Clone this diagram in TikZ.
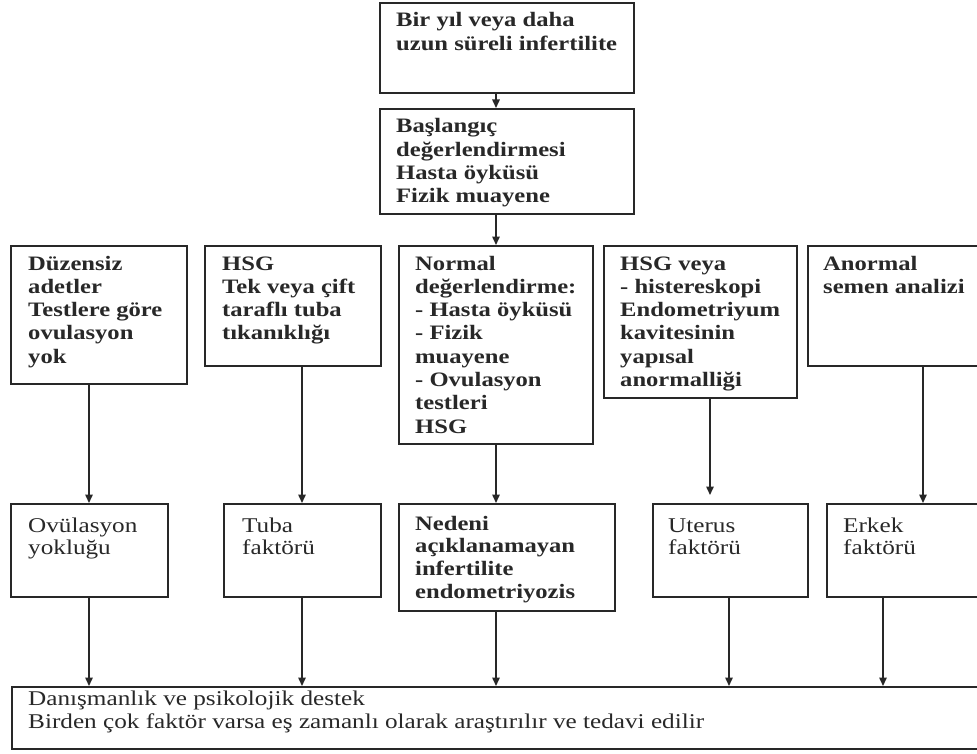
\documentclass[tikz,border=0pt]{standalone}
\usepackage{fontspec}
\setmainfont{Liberation Serif}[FakeStretch=1.2]
\usetikzlibrary{arrows.meta}
\definecolor{ink}{RGB}{40,40,40}
\begin{document}
\begin{tikzpicture}[x=1pt,y=-1pt,
  box/.style={draw=ink, line width=1.6pt, inner sep=0pt, anchor=north west},
  txt/.style={anchor=base west, inner sep=0pt, text=ink, font=\fontsize{20.5}{23.3}\selectfont\bfseries},
  txtr/.style={anchor=base west, inner sep=0pt, text=ink, font=\fontsize{21}{22}\selectfont},
  arr/.style={draw=ink, line width=1.5pt, -{Triangle[width=7.5pt,length=8.5pt]}}]
\useasboundingbox[fill=white] (0,0) rectangle (977,754);
% columns
\coordinate (cm) at (496,0);
\coordinate (ca) at (89,0);
\coordinate (cb) at (302,0);
\coordinate (cd) at (710,0);
\coordinate (ce) at (923,0);
\coordinate (cf) at (729,0);
\coordinate (cg) at (883,0);
% top boxes
\node[box, minimum width=254pt, minimum height=90pt] (top) at (379,2) {};
\node[txt] (ttop) at (396,27) {\parbox[t]{240pt}{Bir yıl veya daha\\uzun süreli infertilite}};
\node[box, minimum width=254pt, minimum height=105pt] (start) at (379,108) {};
\node[txt] (tstart) at (396,133) {\parbox[t]{240pt}{Başlangıç\\değerlendirmesi\\Hasta öyküsü\\Fizik muayene}};
% row 1
\node[box, minimum width=176pt, minimum height=138pt] (b1) at (10,245) {};
\node[txt] (tb1) at (28,270) {\parbox[t]{170pt}{Düzensiz\\adetler\\Testlere göre\\ovulasyon\\yok}};
\node[box, minimum width=176pt, minimum height=120pt] (b2) at (204,245) {};
\node[txt] (tb2) at (222,270) {\parbox[t]{170pt}{HSG\\Tek veya çift\\taraflı tuba\\tıkanıklığı}};
\node[box, minimum width=194pt, minimum height=198pt] (b3) at (398,245) {};
\node[txt] (tb3) at (415,270) {\parbox[t]{190pt}{Normal\\değerlendirme:\\- Hasta öyküsü\\- Fizik\\muayene\\- Ovulasyon\\testleri\\HSG}};
\node[box, minimum width=193pt, minimum height=152pt] (b4) at (603,245) {};
\node[txt] (tb4) at (620,270) {\parbox[t]{190pt}{HSG veya\\- histereskopi\\Endometriyum\\kavitesinin\\yapısal\\anormalliği}};
\node[box, minimum width=183pt, minimum height=120pt] (b5) at (807,245) {};
\node[txt] (tb5) at (823,270) {\parbox[t]{170pt}{Anormal\\semen analizi}};
% row 2
\node[box, minimum width=157pt, minimum height=93pt] (o1) at (10,503) {};
\node[txtr] (to1) at (28,532) {\parbox[t]{150pt}{Ovülasyon\\yokluğu}};
\node[box, minimum width=157pt, minimum height=93pt] (o2) at (223,503) {};
\node[txtr] (to2) at (242,532) {\parbox[t]{150pt}{Tuba\\faktörü}};
\node[box, minimum width=216pt, minimum height=107pt] (o3) at (398,503) {};
\node[txt, font=\fontsize{20.5}{22.7}\selectfont\bfseries] (to3) at (415,530) {\parbox[t]{200pt}{Nedeni\\açıklanamayan\\infertilite\\endometriyozis}};
\node[box, minimum width=155pt, minimum height=93pt] (o4) at (652,503) {};
\node[txtr] (to4) at (668,532) {\parbox[t]{150pt}{Uterus\\faktörü}};
\node[box, minimum width=164pt, minimum height=93pt] (o5) at (826,503) {};
\node[txtr] (to5) at (843,532) {\parbox[t]{150pt}{Erkek\\faktörü}};
% bottom
\node[box, minimum width=979pt, minimum height=62pt] (bot) at (11,686) {};
\node[txtr, font=\fontsize{21}{23}\selectfont] (tbot) at (28,705) {\parbox[t]{900pt}{Danışmanlık ve psikolojik destek\\Birden çok faktör varsa eş zamanlı olarak araştırılır ve tedavi edilir}};
% connectors
\draw[arr] (top.south -| cm) -- (start.north -| cm);
\draw[arr] (start.south -| cm) -- (b3.north -| cm);
\draw[arr] (b1.south -| ca) -- (o1.north -| ca);
\draw[arr] (b2.south -| cb) -- (o2.north -| cb);
\draw[arr] (b3.south -| cm) -- (o3.north -| cm);
\draw[arr, shorten >=8pt] (b4.south -| cd) -- (o4.north -| cd);
\draw[arr] (b5.south -| ce) -- (o5.north -| ce);
\draw[arr] (o1.south -| ca) -- (bot.north -| ca);
\draw[arr] (o2.south -| cb) -- (bot.north -| cb);
\draw[arr] (o3.south -| cm) -- (bot.north -| cm);
\draw[arr] (o4.south -| cf) -- (bot.north -| cf);
\draw[arr] (o5.south -| cg) -- (bot.north -| cg);
\end{tikzpicture}
\end{document}
